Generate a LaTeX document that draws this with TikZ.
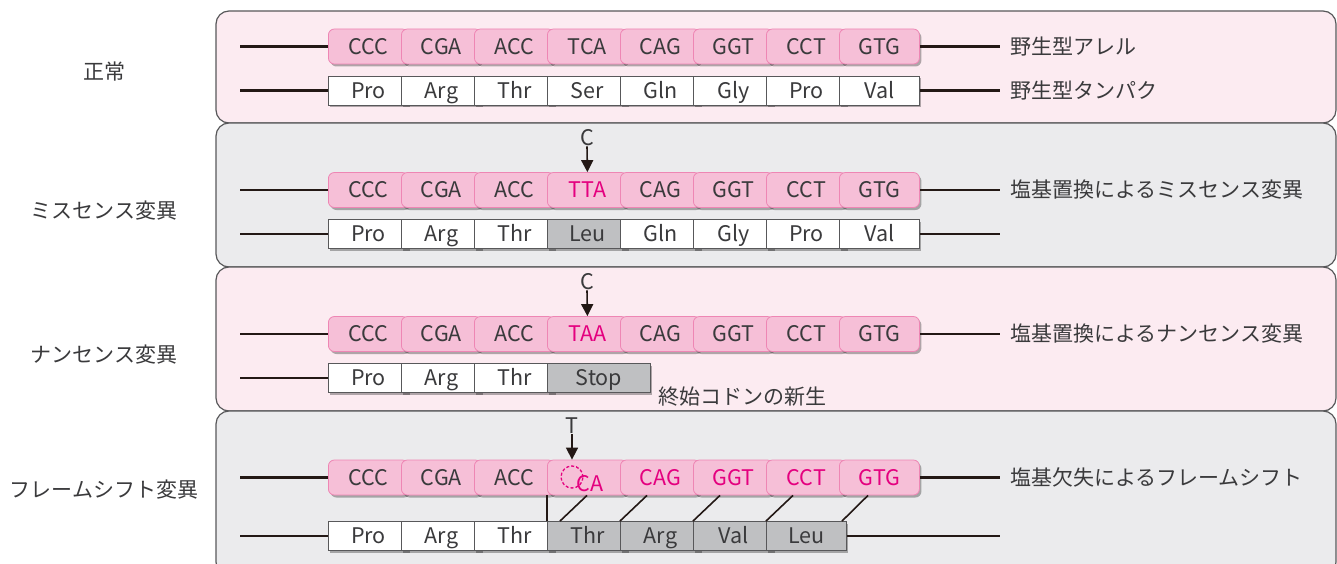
\documentclass[tikz,border=0pt]{standalone}
\usepackage{fontspec}
\setmainfont{Noto Sans CJK JP}
\usetikzlibrary{shadows,arrows.meta}
\definecolor{pinkpanel}{HTML}{FCEBF1}
\definecolor{graypanel}{HTML}{EBEBED}
\definecolor{panelborder}{HTML}{58585A}
\definecolor{codonfill}{HTML}{F6BFD7}
\definecolor{codonborder}{HTML}{EE86B4}
\definecolor{magentatext}{HTML}{E4007F}
\definecolor{grayfill}{HTML}{BFC0C2}
\definecolor{txt}{HTML}{3A3A3C}
\definecolor{linec}{HTML}{231815}
\begin{document}
\begin{tikzpicture}[x=1pt,y=-1pt, font=\fontsize{21.5}{25}\selectfont, text=txt,
  panel/.style={draw=panelborder, line width=1.2pt, rounded corners=13pt},
  boxshadow/.style={drop shadow={shadow xshift=2pt, shadow yshift=-2.5pt, opacity=0.3, fill=black}},
  codon/.style={draw=codonborder, line width=0.8pt, fill=codonfill, rounded corners=6pt,
    minimum width=80pt, minimum height=35pt, inner sep=0pt, text height=15.5pt, text depth=0pt,
    anchor=west, boxshadow},
  prot/.style={draw=panelborder, line width=0.9pt, fill=white, minimum width=80pt,
    minimum height=29pt, inner sep=0pt, text height=15.5pt, text depth=0pt, anchor=west, boxshadow},
  gprot/.style={prot, fill=grayfill},
  mut/.style={text=magentatext},
  wire/.style={draw=linec, line width=2.4pt},
  thin/.style={draw=linec, line width=1.6pt},
  lbl/.style={anchor=west, inner sep=0pt, font=\fontsize{21}{25}\selectfont},
  side/.style={inner sep=0pt, font=\fontsize{21}{25}\selectfont},
  small/.style={inner sep=0pt},
  arr/.style={draw=linec, line width=1.6pt, -{Triangle[width=12pt,length=12pt]}}
]
\useasboundingbox (0,0) rectangle (1337,564);
\clip (0,0) rectangle (1337,564);

% panels
\draw[panel, fill=pinkpanel] (216,11) rectangle (1336,123);
\draw[panel, fill=graypanel] (216,123) rectangle (1336,267);
\draw[panel, fill=pinkpanel] (216,267) rectangle (1336,411);
\draw[panel, fill=graypanel] (216,411) rectangle (1336,575);

% left labels
\node[side] (s1) at (104,72) {正常};
\node[side] (s2) at (104,211) {ミスセンス変異};
\node[side] (s3) at (104,355) {ナンセンス変異};
\node[side] (s4) at (104,490) {フレームシフト変異};

% ---------- panel 1
\foreach \t [count=\i] in {CCC,CGA,ACC,TCA,CAG,GGT,CCT,GTG}
  \node[codon] (p1c\i) at ({328+73*(\i-1)},46.5) {\t};
\foreach \t [count=\i] in {Pro,Arg,Thr,Ser,Gln,Gly,Pro,Val}
  \node[prot] (p1p\i) at ({328+73*(\i-1)},90.5) {\t};
\coordinate (p1la) at (240,46.5);
\coordinate (p1lb) at (240,90.5);
\coordinate (p1ra) at (1000,46.5);
\coordinate (p1rb) at (1000,90.5);
\draw[wire] (p1la) -- (p1c1.west);
\draw[wire] (p1lb) -- (p1p1.west);
\draw[wire] (p1c8.east) -- (p1ra);
\draw[wire] (p1p8.east) -- (p1rb);
\node[lbl] (t1a) at (1010,46.5) {野生型アレル};
\node[lbl] (t1b) at (1010,90.5) {野生型タンパク};

% ---------- panel 2
\foreach \t/\s [count=\i] in {CCC/,CGA/,ACC/,TTA/mut,CAG/,GGT/,CCT/,GTG/}
  \node[codon,\s] (p2c\i) at ({328+73*(\i-1)},190) {\t};
\foreach \t/\s [count=\i] in {Pro/prot,Arg/prot,Thr/prot,Leu/gprot,Gln/prot,Gly/prot,Pro/prot,Val/prot}
  \node[\s] (p2p\i) at ({328+73*(\i-1)},234) {\t};
\coordinate (p2la) at (240,190);
\coordinate (p2lb) at (240,234);
\coordinate (p2ra) at (1000,190);
\coordinate (p2rb) at (1000,234);
\draw[wire] (p2la) -- (p2c1.west);
\draw[wire] (p2lb) -- (p2p1.west);
\draw[wire] (p2c8.east) -- (p2ra);
\draw[wire] (p2p8.east) -- (p2rb);
\node[lbl] (t2a) at (1010,190) {塩基置換によるミスセンス変異};
\node[small] (m2) at (587,138) {C};
\draw[arr] (m2.south) -- (p2c4.north);

% ---------- panel 3
\foreach \t/\s [count=\i] in {CCC/,CGA/,ACC/,TAA/mut,CAG/,GGT/,CCT/,GTG/}
  \node[codon,\s] (p3c\i) at ({328+73*(\i-1)},334) {\t};
\foreach \t [count=\i] in {Pro,Arg,Thr}
  \node[prot] (p3p\i) at ({328+73*(\i-1)},378) {\t};
\node[gprot, minimum width=103pt] (p3p4) at (547,378) {Stop};
\coordinate (p3la) at (240,334);
\coordinate (p3lb) at (240,378);
\coordinate (p3ra) at (1000,334);
\draw[wire] (p3la) -- (p3c1.west);
\draw[wire] (p3lb) -- (p3p1.west);
\draw[wire] (p3c8.east) -- (p3ra);
\node[lbl] (t3a) at (1010,334) {塩基置換によるナンセンス変異};
\node[lbl] (t3b) at (658,397) {終始コドンの新生};
\node[small] (m3) at (587,282) {C};
\draw[arr] (m3.south) -- (p3c4.north);

% ---------- panel 4
\foreach \t/\s [count=\i] in {CCC/,CGA/,ACC/,{}/,CAG/mut,GGT/mut,CCT/mut,GTG/mut}
  \node[codon,\s] (p4c\i) at ({328+73*(\i-1)},477.5) {\t};
\foreach \t/\s [count=\i] in {Pro/prot,Arg/prot,Thr/prot,Thr/gprot,Arg/gprot,Val/gprot,Leu/gprot}
  \node[\s] (p4p\i) at ({328+73*(\i-1)},536) {\t};
\node[circle, draw=magentatext, dash pattern=on 3pt off 2pt, line width=1.3pt,
  minimum size=22pt, inner sep=0pt] (del) at (572,477) {};
\node[small, mut, text height=15.5pt, text depth=0pt] (ca) at (590,484) {CA};
\coordinate (p4la) at (240,477.5);
\coordinate (p4lb) at (240,536);
\coordinate (p4ra) at (1000,477.5);
\coordinate (p4rb) at (1000,536);
\draw[wire] (p4la) -- (p4c1.west);
\draw[wire] (p4lb) -- (p4p1.west);
\draw[wire] (p4c8.east) -- (p4ra);
\draw[wire] (p4p7.east) -- (p4rb);
\node[lbl] (t4a) at (1010,477.5) {塩基欠失によるフレームシフト};
\node[small] (m4) at (572,426) {T};
\draw[arr] (m4.south) -- (m4.south |- p4c4.north);
% frame shift links
\draw[thin] (p4c4.south west) -- (p4p4.north west);
\draw[thin] ([xshift=13pt]p4p4.north west) -- ([xshift=40pt]p4c4.south west);
\draw[thin] (p4p5.north west) -- ([xshift=27pt]p4c5.south west);
\draw[thin] (p4p6.north west) -- ([xshift=27pt]p4c6.south west);
\draw[thin] (p4p7.north west) -- ([xshift=27pt]p4c7.south west);
\draw[thin] ([xshift=76pt]p4p7.north west) -- ([xshift=29pt]p4c8.south west);
\end{tikzpicture}
\end{document}
